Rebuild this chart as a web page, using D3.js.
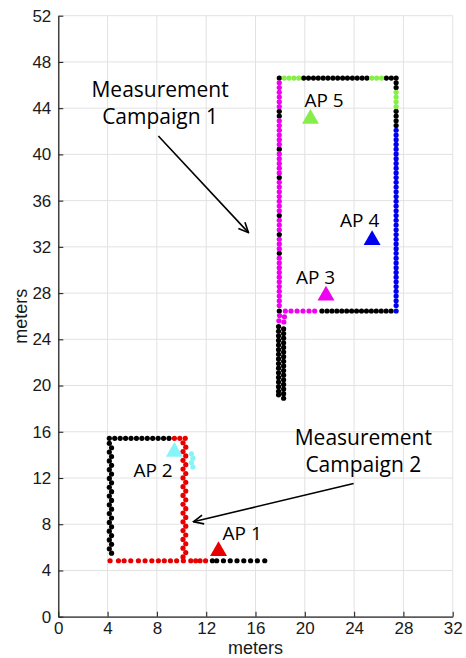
<!DOCTYPE html>
<html>
<head>
<meta charset="utf-8">
<script src="https://cdn.jsdelivr.net/npm/d3@7"></script>
<style>
  html, body { margin: 0; padding: 0; background: #fff; }
  svg { display: block; }
</style>
</head>
<body>
<svg id="chart" width="466" height="658"></svg>
<script>
// ---- axes ----
const xTicks = [0, 4, 8, 12, 16, 20, 24, 28, 32];
const yTicks = [0, 4, 8, 12, 16, 20, 24, 28, 32, 36, 40, 44, 48, 52];
const axisLabel = "meters";

// ---- measurement points, grouped by the access point they were assigned to ----
// points with no assigned access point
const unassignedPoints = [
  // campaign 1, west corridor
  [17.93, 46.6], [17.93, 43.73], [17.93, 43.32], [17.93, 40.45], [17.93, 37.99],
  [17.93, 34.71], [17.93, 33.07], [17.93, 31.43],
  // campaign 1, north corridor
  [19.91, 46.6], [20.30, 46.6], [20.70, 46.6], [21.09, 46.6], [21.49, 46.6], [21.88, 46.6],
  [22.28, 46.6], [22.67, 46.6], [23.07, 46.6], [23.46, 46.6], [23.86, 46.6], [24.25, 46.6],
  [24.65, 46.6], [25.04, 46.6], [26.62, 46.6], [27.02, 46.6], [27.41, 46.6],
  // campaign 1, east corridor
  [27.41, 46.19], [27.41, 45.78], [27.41, 43.73], [27.41, 43.32], [27.41, 42.91], [27.41, 42.50],
  // campaign 1, south corridor
  [17.93, 26.45], [21.39, 26.45], [21.80, 26.45], [22.20, 26.45], [22.60, 26.45], [23.00, 26.45],
  [23.40, 26.45], [23.80, 26.45], [24.20, 26.45], [24.60, 26.45], [25.00, 26.45], [25.40, 26.45],
  [25.80, 26.45], [26.20, 26.45], [26.60, 26.45], [27.00, 26.45],
  // campaign 1, stairwell corridor going south
  [17.87, 25.1], [17.87, 24.7], [17.87, 24.3], [17.87, 23.9], [17.87, 23.5], [17.87, 23.1],
  [17.87, 22.7], [17.87, 22.3], [17.87, 21.9], [17.87, 21.5], [17.87, 21.1], [17.87, 20.7],
  [17.87, 20.3], [17.87, 19.9], [17.87, 19.5], [17.87, 19.2],
  [18.28, 24.9], [18.28, 24.5], [18.28, 24.1], [18.28, 23.7], [18.28, 23.3], [18.28, 22.9],
  [18.28, 22.5], [18.28, 22.1], [18.28, 21.7], [18.28, 21.3], [18.28, 20.9], [18.28, 20.5],
  [18.28, 20.1], [18.28, 19.7], [18.28, 19.3], [18.28, 18.9],
  // campaign 2, north corridor
  [4.14, 15.43], [4.58, 15.43], [5.02, 15.43], [5.46, 15.43], [5.90, 15.43], [6.34, 15.43],
  [6.78, 15.43], [7.22, 15.43], [7.66, 15.43], [8.10, 15.43], [8.54, 15.43], [8.98, 15.43],
  // campaign 2, west corridor
  [4.14, 15.0], [4.32, 14.62], [4.14, 14.24], [4.32, 13.86], [4.14, 13.48], [4.32, 13.10],
  [4.14, 12.72], [4.32, 12.34], [4.14, 11.96], [4.32, 11.58], [4.14, 11.20], [4.32, 10.82],
  [4.14, 10.44], [4.32, 10.06], [4.14, 9.68], [4.32, 9.30], [4.14, 8.92], [4.32, 8.54],
  [4.14, 8.16], [4.32, 7.78], [4.14, 7.40], [4.32, 7.02], [4.14, 6.64], [4.32, 6.26],
  [4.14, 5.88], [4.32, 5.50],
  // campaign 2, south corridor east end
  [12.50, 4.84], [12.85, 4.84], [13.40, 4.84], [13.95, 4.84], [14.50, 4.84], [15.05, 4.84],
  [15.60, 4.84], [16.15, 4.84], [16.75, 4.84]
];

const ap1Points = [
  [9.42, 15.43], [9.86, 15.43], [10.30, 15.43],
  [10.12, 15.05], [10.34, 14.67], [10.12, 14.29], [10.34, 13.91], [10.12, 13.53], [10.34, 13.15],
  [10.12, 12.77], [10.34, 12.39], [10.12, 12.01], [10.34, 11.63], [10.12, 11.25], [10.34, 10.87],
  [10.12, 10.49], [10.34, 10.11], [10.12, 9.73], [10.34, 9.35], [10.12, 8.97], [10.34, 8.59],
  [10.12, 8.21], [10.34, 7.83], [10.12, 7.45], [10.34, 7.07], [10.12, 6.69], [10.34, 6.31],
  [10.12, 5.93], [10.34, 5.55], [10.12, 5.17],
  [4.20, 4.84], [4.88, 4.84], [5.34, 4.84], [5.88, 4.84], [6.50, 4.84], [7.04, 4.84],
  [7.59, 4.84], [8.12, 4.84], [8.60, 4.84], [9.10, 4.84], [9.60, 4.84], [10.15, 4.84],
  [10.75, 4.84], [11.15, 4.84], [11.50, 4.84], [11.95, 4.84]
];

const ap2Points = [
  [10.80, 14.10], [10.92, 13.72], [10.80, 13.34], [10.92, 12.96]
];

const ap3Points = [
  [17.93, 46.19], [17.93, 45.78], [17.93, 45.37], [17.93, 44.96], [17.93, 44.55], [17.93, 44.14],
  [17.93, 42.91], [17.93, 42.50], [17.93, 42.09], [17.93, 41.68], [17.93, 41.27], [17.93, 40.86],
  [17.93, 40.04], [17.93, 39.63], [17.93, 39.22], [17.93, 38.81], [17.93, 38.40],
  [17.93, 37.58], [17.93, 37.17], [17.93, 36.76], [17.93, 36.35], [17.93, 35.94], [17.93, 35.53],
  [17.93, 35.12], [17.93, 34.30], [17.93, 33.89], [17.93, 33.48],
  [17.93, 32.66], [17.93, 32.25], [17.93, 31.84],
  [17.93, 31.02], [17.93, 30.61], [17.93, 30.20], [17.93, 29.79], [17.93, 29.38], [17.93, 28.97],
  [17.93, 28.56], [17.93, 28.15], [17.93, 27.74], [17.93, 27.33], [17.93, 26.92],
  [18.42, 26.45], [18.88, 26.45], [19.37, 26.45], [19.85, 26.45], [20.34, 26.45], [20.80, 26.45],
  [17.95, 26.05], [18.35, 25.95], [17.90, 25.60], [18.30, 25.50]
];

const ap4Points = [
  [27.41, 42.09], [27.41, 41.68], [27.41, 41.27], [27.41, 40.86], [27.41, 40.45], [27.41, 40.04],
  [27.41, 39.63], [27.41, 39.22], [27.41, 38.81], [27.41, 38.40], [27.41, 37.99], [27.41, 37.58],
  [27.41, 37.17], [27.41, 36.76], [27.41, 36.35], [27.41, 35.94], [27.41, 35.53], [27.41, 35.12],
  [27.41, 34.71], [27.41, 34.30], [27.41, 33.89], [27.41, 33.48], [27.41, 33.07], [27.41, 32.66],
  [27.41, 32.25], [27.41, 31.84], [27.41, 31.43], [27.41, 31.02], [27.41, 30.61], [27.41, 30.20],
  [27.41, 29.79], [27.41, 29.38], [27.41, 28.97], [27.41, 28.56], [27.41, 28.15], [27.41, 27.74],
  [27.41, 27.33], [27.41, 26.92], [27.41, 26.45]
];

const ap5Points = [
  [18.33, 46.6], [18.72, 46.6], [19.12, 46.6], [19.51, 46.6],
  [25.44, 46.6], [25.83, 46.6], [26.23, 46.6],
  [27.41, 45.37], [27.41, 44.96], [27.41, 44.55], [27.41, 44.14]
];

// ---- access point locations ----
const apNames = ["AP 1", "AP 2", "AP 3", "AP 4", "AP 5"];
const apX = [13.0, 9.42, 21.72, 25.46, 20.46];
const apY = [5.67, 14.27, 27.79, 32.59, 43.08];

// ---- campaign annotations ----
const campaignLines = [["Measurement", "Campaign 1"], ["Measurement", "Campaign 2"]];

// ---------------------------------------------------------------
const W = 466, H = 658;
const margin = { left: 58.3, right: 13.3, top: 15.7, bottom: 41.3 };

const x = d3.scaleLinear().domain([0, 32]).range([margin.left, W - margin.right]);
const y = d3.scaleLinear().domain([0, 52]).range([H - margin.bottom, margin.top]);

const apColor = d3.scaleOrdinal()
  .domain(["none", "AP 1", "AP 2", "AP 3", "AP 4", "AP 5"])
  .range(["#000000", "#e80000", "#86f4f8", "#f000f0", "#0000f0", "#86ee48"]);

const svg = d3.select("#chart");
svg.append("rect").attr("width", W).attr("height", H).attr("fill", "#fff");

// grid
const grid = svg.append("g").attr("stroke", "#e2e2e2").attr("stroke-width", 1);
grid.selectAll("line.v").data(xTicks).join("line")
  .attr("x1", d => x(d)).attr("x2", d => x(d))
  .attr("y1", y(0)).attr("y2", y(52));
grid.selectAll("line.h").data(yTicks).join("line")
  .attr("y1", d => y(d)).attr("y2", d => y(d))
  .attr("x1", x(0)).attr("x2", x(32));

// axes
const tickFont = "17px 'Liberation Sans', Arial, Helvetica, sans-serif";
const xAxis = svg.append("g")
  .attr("transform", `translate(0,${y(0)})`)
  .call(d3.axisBottom(x).tickValues(xTicks).tickSize(-5).tickSizeOuter(0).tickPadding(5));
const yAxis = svg.append("g")
  .attr("transform", `translate(${x(0)},0)`)
  .call(d3.axisLeft(y).tickValues(yTicks).tickSize(-5).tickSizeOuter(0).tickPadding(7));
[xAxis, yAxis].forEach(g => {
  g.select(".domain").attr("stroke", "#262626").attr("stroke-width", 1.3);
  g.selectAll(".tick line").attr("stroke", "#262626").attr("stroke-width", 1.1);
  g.selectAll(".tick text").style("font", tickFont).attr("fill", "#1a1a1a");
});

const labelFont = "18px 'Liberation Sans', Arial, Helvetica, sans-serif";
svg.append("text")
  .attr("x", (x(0) + x(32)) / 2).attr("y", 654)
  .attr("text-anchor", "middle").style("font", labelFont).attr("fill", "#1a1a1a")
  .text(axisLabel);
svg.append("text")
  .attr("transform", `translate(27,${(y(0) + y(52)) / 2}) rotate(-90)`)
  .attr("text-anchor", "middle").style("font", labelFont).attr("fill", "#1a1a1a")
  .text(axisLabel);

// measurement points
const groups = [
  ["none", unassignedPoints],
  ["AP 1", ap1Points],
  ["AP 2", ap2Points],
  ["AP 3", ap3Points],
  ["AP 4", ap4Points],
  ["AP 5", ap5Points]
];
const dots = svg.append("g");
groups.forEach(([key, pts]) => {
  dots.append("g").attr("fill", apColor(key))
    .selectAll("circle").data(pts).join("circle")
    .attr("cx", d => x(d[0])).attr("cy", d => y(d[1])).attr("r", 2.6);
});

// access points
const annFont = "19px 'Open Sans', 'Noto Sans', sans-serif";
const tri = d3.symbol().type(d3.symbolTriangle).size(125);
const aps = svg.append("g");
apNames.forEach((name, i) => {
  aps.append("path")
    .attr("d", tri())
    .attr("transform", `translate(${x(apX[i])},${y(apY[i])})`)
    .attr("fill", apColor(name));
});
// label placement relative to each triangle (pixels: dx to text start, dy to baseline)
const apLabelOffset = [[4, -11], [-41, 25], [-30, -12], [-32, -13], [-6, -12]];
apNames.forEach((name, i) => {
  aps.append("text")
    .attr("x", x(apX[i]) + apLabelOffset[i][0])
    .attr("y", y(apY[i]) + apLabelOffset[i][1])
    .style("font", annFont).attr("fill", "#000")
    .text(name);
});

// campaign notes with arrows
svg.append("defs").append("marker")
  .attr("id", "head").attr("markerUnits", "userSpaceOnUse")
  .attr("viewBox", "0 0 12 12").attr("markerWidth", 12).attr("markerHeight", 12)
  .attr("refX", 11).attr("refY", 6).attr("orient", "auto")
  .append("path").attr("d", "M1,1.5 L11,6 L1,10.5")
  .attr("fill", "none").attr("stroke", "#000").attr("stroke-width", 1.6);

const notes = [
  { lines: campaignLines[0], cx: 8.26, base: 44.96, from: [8.12, 41.59], to: [15.43, 33.23] },
  { lines: campaignLines[1], cx: 24.75, base: 14.85, from: [23.96, 11.53], to: [10.96, 8.21] }
];
notes.forEach(n => {
  const t = svg.append("text").attr("text-anchor", "middle")
    .style("font", "21px 'Open Sans', 'Noto Sans', sans-serif").attr("fill", "#000");
  n.lines.forEach((ln, k) => {
    t.append("tspan").attr("x", x(n.cx)).attr("y", y(n.base) + k * 27).text(ln);
  });
  svg.append("line")
    .attr("x1", x(n.from[0])).attr("y1", y(n.from[1]))
    .attr("x2", x(n.to[0])).attr("y2", y(n.to[1]))
    .attr("stroke", "#000").attr("stroke-width", 1.6)
    .attr("marker-end", "url(#head)");
});
</script>
</body>
</html>
